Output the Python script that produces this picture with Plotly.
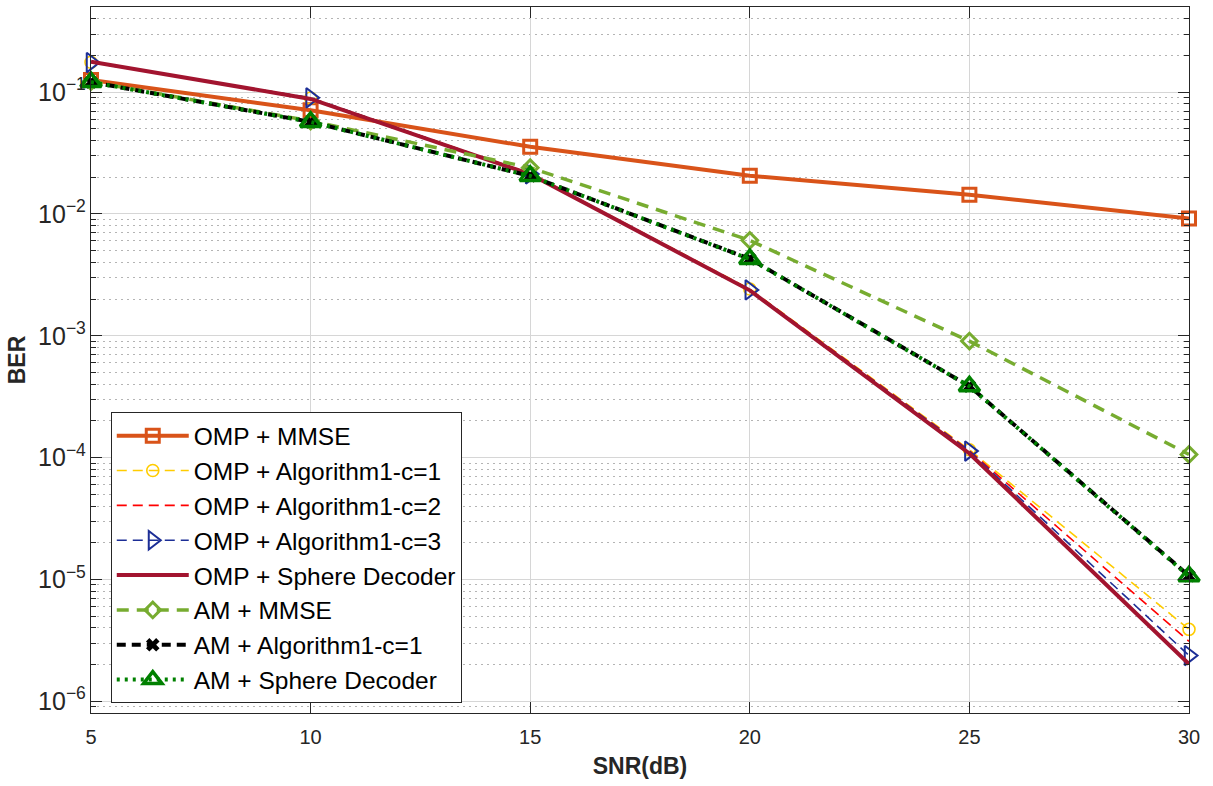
import plotly.graph_objects as go

# SNR sweep (dB)
snr = [5, 10, 15, 20, 25, 30]

# Bit error rates per receiver
ber_omp_mmse = [0.126, 0.071, 0.0356, 0.0206, 0.0144, 0.00918]
ber_omp_alg_c1 = [0.176, 0.0895, 0.0215, 0.00242, 1.16e-4, 3.89e-6]
ber_omp_alg_c2 = [0.176, 0.0895, 0.0214, 0.00240, 1.14e-4, 3.10e-6]
ber_omp_alg_c3 = [0.175, 0.0898, 0.0213, 0.00238, 1.13e-4, 2.37e-6]
ber_omp_sd = [0.178, 0.088, 0.0212, 0.00236, 1.08e-4, 2.02e-6]
ber_am_mmse = [0.122, 0.058, 0.0240, 0.00607, 9.04e-4, 1.06e-4]
ber_am_alg_c1 = [0.121, 0.057, 0.0205, 0.00428, 3.86e-4, 1.07e-5]
ber_am_sd = [0.121, 0.057, 0.0205, 0.00426, 3.85e-4, 1.06e-5]

names = [
    "OMP + MMSE",
    "OMP + Algorithm1-c=1",
    "OMP + Algorithm1-c=2",
    "OMP + Algorithm1-c=3",
    "OMP + Sphere Decoder",
    "AM + MMSE",
    "AM + Algorithm1-c=1",
    "AM + Sphere Decoder",
]

FONT = "Liberation Sans, Arial, Helvetica, sans-serif"

styles = [
    # values, colour, line width, dash, marker symbol, marker size, marker line width
    (ber_omp_mmse, "#D95319", 4, "solid", "square-open", 13, 3),
    (ber_omp_alg_c1, "#FFCC00", 1.6, "10px,6px", "circle-open", 12, 1.6),
    (ber_omp_alg_c2, "#FF0000", 1.6, "10px,6px", None, 0, 0),
    (ber_omp_alg_c3, "#1C2E96", 1.6, "10px,6px", "triangle-right-open", 17, 2),
    (ber_omp_sd, "#A2142F", 4, "solid", None, 0, 0),
    (ber_am_mmse, "#77AC30", 3.5, "12px,8px", "diamond-open", 12, 3),
    (ber_am_alg_c1, "#000000", 4, "9px,6px", "x", 12, 0),
    (ber_am_sd, "#008000", 4, "3px,5px", "triangle-up-open", 18, 3.5),
]

fig = go.Figure()
for name, (vals, color, lw, dash, sym, msize, mlw) in zip(names, styles):
    mode = "lines+markers" if sym else "lines"
    marker = dict(symbol=sym, size=msize, color=color,
                  line=dict(color=color, width=mlw)) if sym else None
    fig.add_trace(go.Scatter(
        x=snr, y=vals, name=name, mode=mode,
        line=dict(color=color, width=lw, dash=dash),
        marker=marker, cliponaxis=False,
    ))

axis_common = dict(
    showline=True, linecolor="#262626", linewidth=1.3, mirror="ticks",
    ticks="inside", ticklen=11, tickwidth=1.3, tickcolor="#262626",
    showgrid=True, gridcolor="#D6D6D6", gridwidth=1,
    tickfont=dict(family=FONT, size=20, color="#262626"),
    zeroline=False,
)

fig.update_xaxes(
    **axis_common,
    range=[5, 30], tickvals=[5, 10, 15, 20, 25, 30],
    ticklabelstandoff=6,
    title=dict(text="<b>SNR(dB)</b>", font=dict(family=FONT, size=23, color="#262626"),
               standoff=10),
)
fig.update_yaxes(
    **axis_common,
    type="log", range=[-6.097, -0.301], dtick=1, exponentformat="power",
    minor=dict(dtick="D1", ticks="inside", ticklen=5, tickcolor="#262626",
               showgrid=True, gridcolor="#B4B4B4", griddash="2px,4px", gridwidth=1),
    title=dict(text="<b>BER</b>", font=dict(family=FONT, size=23, color="#262626"),
               standoff=6),
)

fig.update_layout(
    width=1213, height=786,
    margin=dict(l=91, r=24, t=7, b=73),
    paper_bgcolor="white", plot_bgcolor="white",
    font=dict(family=FONT, color="#262626"),
    legend=dict(
        x=0.018, y=0.426, xanchor="left", yanchor="top",
        bgcolor="white", bordercolor="#262626", borderwidth=1,
        font=dict(family=FONT, size=24.5, color="#000000"),
        itemwidth=72,
    ),
)

fig.write_html("out.html")
